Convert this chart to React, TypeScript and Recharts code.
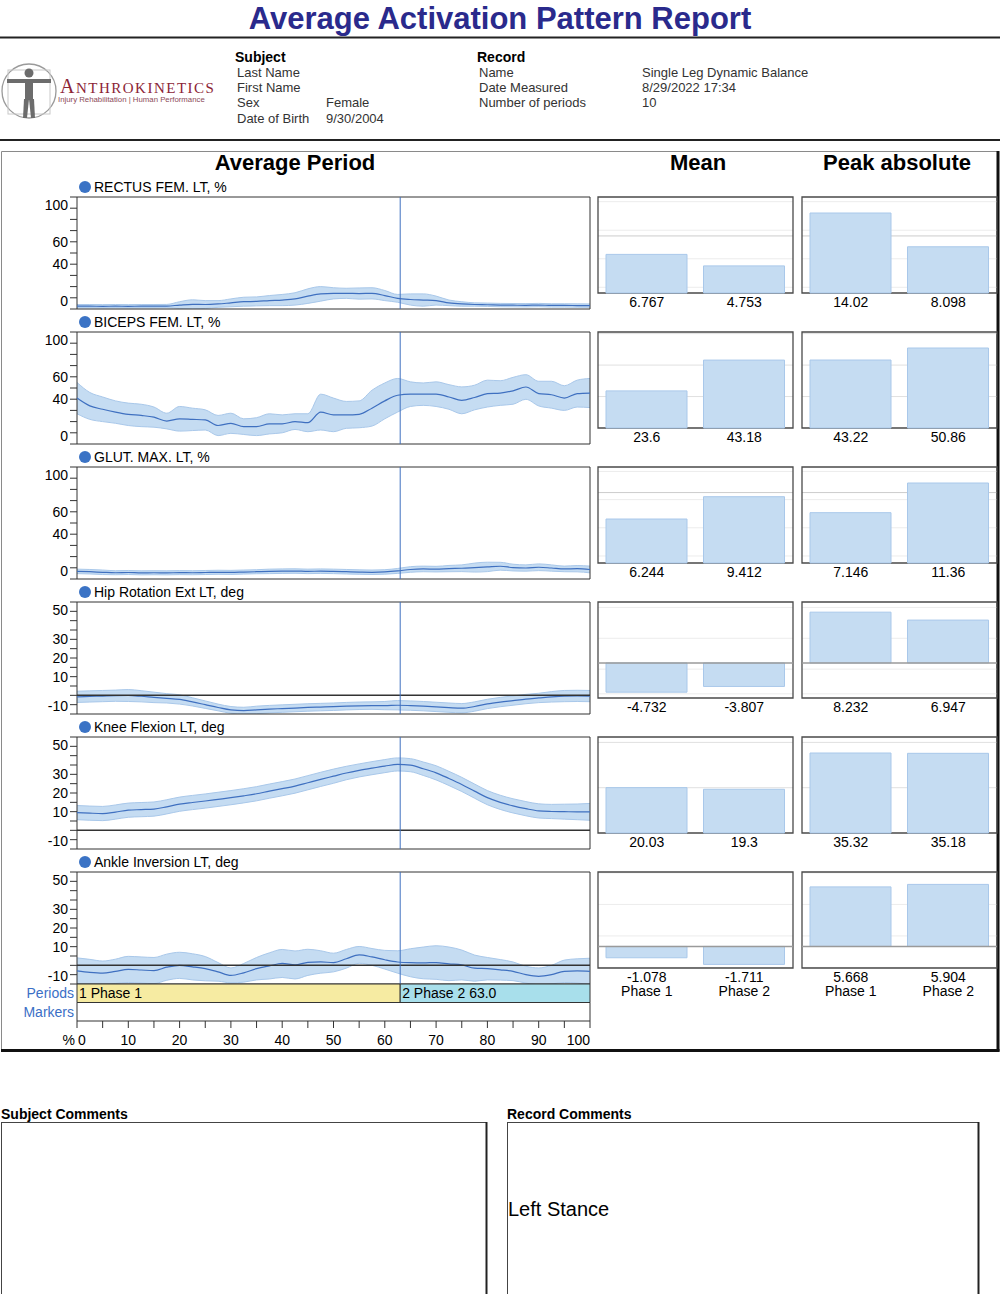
import React from 'react';
import {
  ComposedChart,
  BarChart,
  Bar,
  Area,
  Line,
  XAxis,
  YAxis,
  CartesianGrid,
  ReferenceLine,
  ReferenceArea,
} from 'recharts';

const FONT = '"Liberation Sans", Arial, Helvetica, sans-serif';
const BLUE = '#3f70c0';
const BAND = '#c5dcf2';
const BAND_EDGE = '#a9c8ea';
const LABEL_BLUE = '#3b6fc6';

// % of the average period, shared by every curve
const pct = [
  0, 2.5, 5, 7.5, 10, 12.5, 15, 17.5, 20, 22.5, 25, 27.5, 30, 32.5, 35, 37.5, 40, 42.5, 45, 47.5, 50,
  52.5, 55, 57.5, 60, 62.5, 65, 67.5, 70, 72.5, 75, 77.5, 80, 82.5, 85, 87.5, 90, 92.5, 95, 97.5, 100,
];

const phaseNames = ['Phase 1', 'Phase 2'];
const phaseStarts = [0, 63];
const phaseEnds = [63, 100];
const phaseColors = ['#f6eba2', '#a8dfeb'];

const pctTicks = [0, 10, 20, 30, 40, 50, 60, 70, 80, 90, 100];
const pctTickLabels = [0, 40, 60, 100];
const degTicks = [-10, -5, 0, 5, 10, 15, 20, 25, 30, 35, 40, 45, 50];
const degTickLabels = [-10, 10, 20, 30, 50];
const periodTicks = [0, 5, 10, 15, 20, 25, 30, 35, 40, 45, 50, 55, 60, 65, 70, 75, 80, 85, 90, 95, 100];
const stripRows = ['Markers', 'Periods'];

// RECTUS FEM. LT
const rectusMean = [2.5, 2.5, 2.4, 2.5, 2.4, 2.5, 2.5, 2.6, 3.5, 4.2, 4.0, 4.5, 5.5, 6.5, 6.8, 7.5, 8.0, 9.0, 11.5, 13.5, 14.0, 14.0, 13.8, 14.0, 12.0, 9.5, 8.5, 8.0, 7.5, 5.5, 4.5, 4.0, 3.8, 3.5, 3.4, 3.3, 3.5, 3.2, 3.2, 3.1, 3.0];
const rectusSd = [1.5, 1.5, 1.5, 1.5, 1.5, 1.5, 1.5, 1.5, 3.0, 4.0, 3.5, 3.0, 3.5, 4.0, 4.0, 4.5, 5.0, 5.5, 6.5, 6.5, 5.0, 4.5, 5.0, 5.0, 4.5, 3.5, 5.0, 5.5, 4.0, 2.5, 2.0, 1.5, 1.5, 1.5, 1.5, 1.5, 1.5, 1.5, 1.5, 1.5, 1.5];
const rectusPhaseMean = [6.767, 4.753];
const rectusPhasePeak = [14.02, 8.098];

// BICEPS FEM. LT
const bicepsMean = [41, 34, 31, 28.5, 26.5, 25.5, 24, 20.5, 22.5, 22, 21.5, 16.5, 18.5, 15.5, 15.5, 18, 18, 20, 19, 28.5, 26, 26, 26.5, 32, 38.5, 43.5, 44.5, 44.5, 44.5, 42, 39, 41.5, 45, 45.5, 47.5, 50.9, 45, 44, 41, 45, 45.5];
const bicepsSd = [14, 12, 11, 10, 10, 10, 9, 7, 11, 10, 9, 9, 9, 7, 8, 9, 8, 7, 8, 16, 15, 12, 12, 16, 16, 15, 11, 10, 11, 11, 12, 11, 12, 11, 12, 11, 11, 12, 11, 12, 13];
const bicepsPhaseMean = [23.6, 43.18];
const bicepsPhasePeak = [43.22, 50.86];

// GLUT. MAX. LT
const glutMean = [6.8, 6.5, 6.0, 5.6, 5.8, 5.5, 5.6, 5.5, 5.7, 5.6, 5.8, 6.0, 5.9, 6.2, 6.5, 6.8, 7.0, 7.1, 6.8, 7.0, 6.8, 6.5, 6.2, 6.0, 6.3, 7.2, 8.5, 9.0, 8.8, 9.3, 9.6, 10.2, 10.8, 11.4, 10.2, 9.8, 10.5, 9.8, 9.0, 9.2, 8.5];
const glutSd = [2, 2, 2, 1.8, 1.8, 1.8, 1.8, 1.8, 1.8, 1.8, 1.8, 1.8, 1.8, 1.8, 1.8, 2, 2, 2, 2, 2, 2, 2, 2, 2, 2, 2.2, 2.5, 2.5, 2.5, 2.8, 3, 4, 4.2, 3.5, 3, 2.8, 3, 2.8, 2.5, 2.8, 3];
const glutPhaseMean = [6.244, 9.412];
const glutPhasePeak = [7.146, 11.36];

// Hip Rotation Ext LT
const hipMean = [-0.8, -0.6, -0.4, -0.2, -0.1, -0.5, -1.1, -1.6, -2.2, -3.5, -5.0, -6.5, -7.8, -8.2, -7.8, -7.4, -7.1, -6.8, -6.5, -6.3, -6.1, -5.8, -5.6, -5.5, -5.5, -5.3, -5.5, -5.8, -6.2, -6.6, -6.9, -6.0, -4.6, -3.6, -2.8, -2.0, -1.4, -0.8, -0.4, -0.3, -0.4];
const hipSd = [3, 3, 3, 3, 3.2, 3, 2.8, 2.5, 2.5, 2.2, 2, 1.8, 1.8, 1.8, 2, 2, 2, 2, 2, 2, 2, 2, 2, 2, 2.2, 2.5, 2.5, 2.5, 2.5, 2.5, 2.5, 2.5, 2.5, 2.5, 2.5, 2.5, 2.5, 2.8, 3, 3, 3];
const hipPhaseMean = [-4.732, -3.807];
const hipPhasePeak = [8.232, 6.947];

// Knee Flexion LT
const kneeMean = [9.5, 9.2, 9.0, 9.8, 10.8, 11.1, 11.4, 12.6, 14.0, 14.9, 15.7, 16.6, 17.5, 18.5, 19.6, 21.0, 22.3, 23.7, 25.5, 27.3, 29.0, 30.7, 32.1, 33.3, 34.4, 35.3, 34.9, 33.0, 30.8, 27.8, 24.6, 21.0, 17.5, 15.0, 13.1, 11.6, 10.4, 10.1, 10.0, 9.9, 9.9];
const kneeSd = [3.8, 3.8, 3.8, 3.8, 3.8, 3.8, 3.8, 3.8, 3.8, 3.8, 3.8, 3.8, 3.8, 3.8, 3.8, 3.8, 3.8, 3.8, 3.8, 3.8, 3.8, 3.6, 3.5, 3.5, 3.5, 3.5, 3.5, 3.6, 3.8, 3.8, 3.8, 3.8, 3.8, 3.8, 3.8, 3.8, 3.8, 3.8, 4.0, 4.2, 4.5];
const kneePhaseMean = [20.03, 19.3];
const kneePhasePeak = [35.32, 35.18];

// Ankle Inversion LT
const ankleMean = [-3.0, -3.8, -4.2, -3.2, -2.2, -2.5, -2.8, -1.0, 0.0, -0.8, -1.8, -3.5, -5.4, -4.0, -1.8, -0.3, 1.0, 0.2, 1.6, 1.8, 1.5, 3.5, 5.6, 4.5, 3.0, 1.8, 1.4, 1.3, 1.5, 0.8, 0.2, -1.5, -1.8, -2.4, -3.2, -5.0, -5.9, -5.0, -3.2, -3.0, -3.2];
const ankleSd = [7, 7, 6.5, 6.5, 7, 7, 7, 7, 7, 7, 6.5, 5, 4, 5, 6, 7, 7.5, 7.5, 7, 6, 5, 5, 4.5, 4.5, 5, 6, 7.5, 8.5, 9, 9, 8, 7, 6, 5.5, 5, 4.5, 4.5, 5, 6, 6.5, 7];
const anklePhaseMean = [-1.078, -1.711];
const anklePhasePeak = [5.668, 5.904];

const channels = [
  { name: 'RECTUS FEM. LT, %', unit: '%', mean: rectusMean, sd: rectusSd, phaseMean: rectusPhaseMean, phasePeak: rectusPhasePeak, gridStep: 1 },
  { name: 'BICEPS FEM. LT, %', unit: '%', mean: bicepsMean, sd: bicepsSd, phaseMean: bicepsPhaseMean, phasePeak: bicepsPhasePeak, gridStep: 10 },
  { name: 'GLUT. MAX. LT, %', unit: '%', mean: glutMean, sd: glutSd, phaseMean: glutPhaseMean, phasePeak: glutPhasePeak, gridStep: 1 },
  { name: 'Hip Rotation Ext LT, deg', unit: 'deg', mean: hipMean, sd: hipSd, phaseMean: hipPhaseMean, phasePeak: hipPhasePeak, gridStep: 1 },
  { name: 'Knee Flexion LT, deg', unit: 'deg', mean: kneeMean, sd: kneeSd, phaseMean: kneePhaseMean, phasePeak: kneePhasePeak, gridStep: 10 },
  { name: 'Ankle Inversion LT, deg', unit: 'deg', mean: ankleMean, sd: ankleSd, phaseMean: anklePhaseMean, phasePeak: anklePhasePeak, gridStep: 1 },
];

const ROW_TOP = 197;
const ROW_STEP = 135;
const BOX_H = 112;
const BAR_H = 96;

function AxisTick(props: any) {
  const { x, y, payload, labels, lo, hi } = props;
  const v = payload.value;
  if (!labels.includes(v)) return <g />;
  // labels at the box edges are pulled inside, like the original report does
  const dy = v === hi ? 8 : v === lo ? -8 : 0;
  return (
    <text x={x} y={y + dy} textAnchor="end" dominantBaseline="central" fontSize={14} fill="#000" fontFamily={FONT}>
      {v}
    </text>
  );
}

function ChannelChart({ c, top }: { c: any; top: number }) {
  const data = pct.map((x, i) => ({
    x,
    mean: c.mean[i],
    band: [c.mean[i] - c.sd[i], c.mean[i] + c.sd[i]],
  }));
  const deg = c.unit === 'deg';
  const lo = deg ? -10 : 0;
  const hi = deg ? 50 : 100;
  return (
    <div style={{ position: 'absolute', left: 0, top: top - 10 }}>
      <ComposedChart width={600} height={BOX_H + 20} data={data} margin={{ top: 10, right: 10, bottom: 10, left: 0 }}>
        <XAxis type="number" dataKey="x" domain={[0, 100]} hide />
        <YAxis
          type="number"
          domain={[lo, hi]}
          ticks={deg ? degTicks : pctTicks}
          interval={0}
          width={77}
          allowDataOverflow
          axisLine={false}
          tickSize={7}
          tickMargin={2}
          tickLine={{ stroke: '#333' }}
          tick={(p: any) => <AxisTick {...p} labels={deg ? degTickLabels : pctTickLabels} lo={lo} hi={hi} />}
        />
        <Area dataKey="band" type="monotone" fill={BAND} fillOpacity={1} stroke={BAND_EDGE} strokeWidth={1} isAnimationActive={false} />
        <Line dataKey="mean" type="monotone" stroke={BLUE} strokeWidth={1.2} dot={false} isAnimationActive={false} />
        {deg && <ReferenceLine y={0} stroke="#333" strokeWidth={1.5} />}
        <ReferenceLine x={phaseStarts[1]} stroke={BLUE} strokeWidth={1} />
        <ReferenceArea x1={0} x2={100} y1={lo} y2={hi} fill="none" stroke="#333" strokeWidth={1} />
      </ComposedChart>
    </div>
  );
}

function BarValueTick(props: any) {
  const { x, y, payload, index, values, showPhase } = props;
  return (
    <g>
      <text x={x} y={y + 9} textAnchor="middle" dominantBaseline="central" fontSize={14} fill="#000" fontFamily={FONT}>
        {String(values[index])}
      </text>
      {showPhase && (
        <text x={x} y={y + 23} textAnchor="middle" dominantBaseline="central" fontSize={14} fill="#000" fontFamily={FONT}>
          {payload.value}
        </text>
      )}
    </g>
  );
}

function PhaseBars({ values, lo, hi, step, left, top, showPhase }: any) {
  const data = phaseNames.map((p, i) => ({ phase: p, value: values[i] }));
  const minor: number[] = [];
  const major: number[] = [];
  for (let k = Math.ceil(lo / step); k * step < hi; k++) {
    const v = k * step;
    if (v === 0) continue;
    if (step === 1 && v % 10 === 0) major.push(v);
    else minor.push(v);
  }
  return (
    <div style={{ position: 'absolute', left: left - 1, top: top - 1 }}>
      <BarChart width={197} height={BAR_H + 36} data={data} margin={{ top: 1, right: 1, bottom: 0, left: 1 }} barCategoryGap={8}>
        <CartesianGrid vertical={false} horizontalValues={minor} stroke={step === 1 ? '#ececec' : '#e0e0e0'} />
        {major.length > 0 && <CartesianGrid vertical={false} horizontalValues={major} stroke="#cccccc" />}
        <XAxis
          dataKey="phase"
          height={35}
          axisLine={false}
          tickLine={false}
          tickSize={0}
          tickMargin={0}
          interval={0}
          tick={(p: any) => <BarValueTick {...p} values={values} showPhase={showPhase} />}
        />
        <YAxis type="number" domain={[lo, hi]} hide />
        <Bar dataKey="value" fill={BAND} stroke={BAND_EDGE} strokeWidth={1} barSize={81} isAnimationActive={false} />
        {lo < 0 && <ReferenceLine y={0} stroke="#9a9a9a" strokeWidth={1.5} />}
        <ReferenceArea y1={lo} y2={hi} fill="none" stroke="#4a4a4a" strokeWidth={1.3} />
      </BarChart>
    </div>
  );
}

function PeriodTick(props: any) {
  const { x, y, payload } = props;
  const v = payload.value;
  if (v % 10 !== 0) return <g />;
  const ty = y + 10;
  const common = { fontSize: 14, fill: '#000', fontFamily: FONT, dominantBaseline: 'central' as const };
  if (v === 0) {
    return (
      <g>
        <text x={x - 2} y={ty} textAnchor="end" {...common}>%</text>
        <text x={x + 1} y={ty} textAnchor="start" {...common}>0</text>
      </g>
    );
  }
  return (
    <text x={x} y={ty} textAnchor={v === 100 ? 'end' : 'middle'} {...common}>
      {v}
    </text>
  );
}

function RowTick(props: any) {
  const { x, y, payload } = props;
  return (
    <text x={x} y={y} textAnchor="end" dominantBaseline="central" fontSize={14} fill={LABEL_BLUE} fontFamily={FONT}>
      {stripRows[Math.floor(payload.value)]}
    </text>
  );
}

function PeriodStrip({ top }: { top: number }) {
  // two invisible anchor points give both axes their extent
  const data = [
    { x: 0, y: 0 },
    { x: 100, y: 2 },
  ];
  return (
    <div style={{ position: 'absolute', left: 0, top: top - 2 }}>
      <ComposedChart width={600} height={2 + 37 + 34} data={data} margin={{ top: 2, right: 10, bottom: 0, left: 0 }}>
        <XAxis
          type="number"
          dataKey="x"
          domain={[0, 100]}
          ticks={periodTicks}
          interval={0}
          height={34}
          axisLine={false}
          tickSize={7}
          tickMargin={2}
          tickLine={{ stroke: '#333' }}
          tick={PeriodTick}
        />
        <YAxis type="number" domain={[0, 2]} ticks={[0.5, 1.5]} interval={0} width={77} axisLine={false} tickLine={false} tickSize={0} tickMargin={3} tick={RowTick} />
        <Line dataKey="y" stroke="none" dot={false} activeDot={false} isAnimationActive={false} />
        {phaseNames.map((p, i) => (
          <ReferenceArea
            key={p}
            x1={phaseStarts[i]}
            x2={phaseEnds[i]}
            y1={1}
            y2={2}
            fill={phaseColors[i]}
            fillOpacity={1}
            stroke="#333"
            ifOverflow="visible"
            label={{
              value: `${i + 1} ${p}${phaseStarts[i] > 0 ? ' ' + phaseStarts[i].toFixed(1) : ''}`,
              position: 'insideLeft',
              offset: 2,
              fill: '#000',
              fontSize: 14,
            }}
          />
        ))}
        <ReferenceArea x1={0} x2={100} y1={0} y2={1} fill="#fff" fillOpacity={1} stroke="#333" ifOverflow="visible" />
      </ComposedChart>
    </div>
  );
}

function Logo() {
  return (
    <g>
      <circle cx={29} cy={91} r={27} fill="none" stroke="#9a9a9a" strokeWidth={1.3} />
      <rect x={8} y={70} width={42} height={44} fill="none" stroke="#c8c8c8" strokeWidth={1} />
      <circle cx={29} cy={73} r={4.5} fill="#6c6c6c" />
      <rect x={7} y={79} width={44} height={4} fill="#6c6c6c" />
      <rect x={25} y={80} width={8} height={20} fill="#6c6c6c" />
      <polygon points="24,99 29,99 27,118 23,118" fill="#6c6c6c" />
      <polygon points="29,99 34,99 35,118 31,118" fill="#6c6c6c" />
      <text x={60} y={93} fill="#8c2436" fontFamily='"Liberation Serif", "DejaVu Serif", serif' letterSpacing={1.5}>
        <tspan fontSize={20}>A</tspan>
        <tspan fontSize={15}>NTHROKINETICS</tspan>
      </text>
      <text x={58} y={101.5} fill="#8c4a58" fontSize={7.8} fontFamily={FONT}>
        Injury Rehabilitation | Human Performance
      </text>
    </g>
  );
}

function Background() {
  const t = { fontFamily: FONT, dominantBaseline: 'central' as const };
  const info = { ...t, fontSize: 13, fill: '#333' };
  return (
    <svg width={1000} height={1294} style={{ position: 'absolute', left: 0, top: 0 }}>
      <text x={500} y={18} textAnchor="middle" fontSize={31} fontWeight="bold" fill="#2a2a8c" {...t}>
        Average Activation Pattern Report
      </text>
      <line x1={0} y1={37.5} x2={1000} y2={37.5} stroke="#222" strokeWidth={2} />
      <Logo />
      <text x={235} y={57} fontSize={14} fontWeight="bold" fill="#000" {...t}>Subject</text>
      <text x={237} y={72} {...info}>Last Name</text>
      <text x={237} y={87} {...info}>First Name</text>
      <text x={237} y={102} {...info}>Sex</text>
      <text x={326} y={102} {...info}>Female</text>
      <text x={237} y={118} {...info}>Date of Birth</text>
      <text x={326} y={118} {...info}>9/30/2004</text>
      <text x={477} y={57} fontSize={14} fontWeight="bold" fill="#000" {...t}>Record</text>
      <text x={479} y={72} {...info}>Name</text>
      <text x={642} y={72} {...info}>Single Leg Dynamic Balance</text>
      <text x={479} y={87} {...info}>Date Measured</text>
      <text x={642} y={87} {...info}>8/29/2022 17:34</text>
      <text x={479} y={102} {...info}>Number of periods</text>
      <text x={642} y={102} {...info}>10</text>
      <line x1={0} y1={140} x2={1000} y2={140} stroke="#222" strokeWidth={2} />

      {/* main frame */}
      <line x1={1.5} y1={151.5} x2={998} y2={151.5} stroke="#8a8a8a" strokeWidth={1} />
      <line x1={1.5} y1={151.5} x2={1.5} y2={1050} stroke="#8a8a8a" strokeWidth={1} />
      <line x1={998} y1={151} x2={998} y2={1051.5} stroke="#111" strokeWidth={3} />
      <line x1={1} y1={1050.5} x2={999.5} y2={1050.5} stroke="#111" strokeWidth={3} />

      <text x={295} y={162} textAnchor="middle" fontSize={22} fontWeight="bold" fill="#000" {...t}>Average Period</text>
      <text x={698} y={162} textAnchor="middle" fontSize={22} fontWeight="bold" fill="#000" {...t}>Mean</text>
      <text x={897} y={162} textAnchor="middle" fontSize={22} fontWeight="bold" fill="#000" {...t}>Peak absolute</text>

      {channels.map((c, i) => (
        <g key={c.name}>
          <circle cx={85} cy={ROW_TOP - 10 + i * ROW_STEP} r={6} fill="#3b73c5" />
          <text x={94} y={ROW_TOP - 10 + i * ROW_STEP} fontSize={14} fill="#000" {...t}>{c.name}</text>
        </g>
      ))}

      {/* comments */}
      <text x={1} y={1114} fontSize={14} fontWeight="bold" fill="#000" {...t}>Subject Comments</text>
      <rect x={1.5} y={1122.5} width={485} height={200} fill="none" stroke="#444" strokeWidth={1} />
      <line x1={486.5} y1={1122} x2={486.5} y2={1294} stroke="#222" strokeWidth={2} />
      <text x={507} y={1114} fontSize={14} fontWeight="bold" fill="#000" {...t}>Record Comments</text>
      <rect x={507.5} y={1122.5} width={471} height={200} fill="none" stroke="#444" strokeWidth={1} />
      <line x1={978.5} y1={1122} x2={978.5} y2={1294} stroke="#222" strokeWidth={2} />
      <text x={508} y={1209} fontSize={20} fill="#000" {...t}>Left Stance</text>
    </svg>
  );
}

export default function App() {
  return (
    <div style={{ position: 'absolute', left: 0, top: 0, width: 1000, height: 1294, background: '#fff', fontFamily: FONT, overflow: 'hidden' }}>
      <Background />
      {channels.map((c, i) => {
        const top = ROW_TOP + i * ROW_STEP;
        const all = [...c.phaseMean, ...c.phasePeak];
        const lo = Math.min(0, Math.min(...all) * 1.2);
        const hi = Math.max(...all) * 1.2;
        const last = i === channels.length - 1;
        return (
          <React.Fragment key={c.name}>
            <ChannelChart c={c} top={top} />
            <PhaseBars values={c.phaseMean} lo={lo} hi={hi} step={c.gridStep} left={598} top={top} showPhase={last} />
            <PhaseBars values={c.phasePeak} lo={lo} hi={hi} step={c.gridStep} left={802} top={top} showPhase={last} />
          </React.Fragment>
        );
      })}
      <PeriodStrip top={ROW_TOP + 5 * ROW_STEP + BOX_H} />
    </div>
  );
}
